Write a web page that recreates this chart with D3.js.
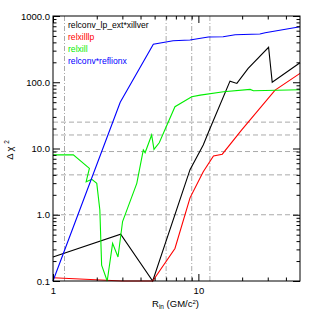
<!DOCTYPE html>
<meta charset="utf-8">
<style>
body{margin:0;background:#fff;}
text{font-family:"Liberation Sans",Arial,sans-serif;}
.axis path{stroke:#000;}
.axis line{stroke:#000;}
.grid{stroke:#aaa;stroke-width:1;fill:none;}
</style>
<body>
<script src="https://d3js.org/d3.v7.min.js"></script>
<script>

// relconv_lp_ext*xillver
var blackX=[1,2.92,4.85,8.76,10.8,11.9,16.5,18.4,22,30.4,32.2,50];
var blackY=[0.23,0.51,0.1,4.8,11.3,19,104,96,162,337,100,197];
// relxilllp
var redX=[1,3,4.85,6.9,8.76,10.8,12.7,14.6,19.8,33.7,50];
var redY=[0.112,0.1,0.1,0.31,1.8,4.47,7.7,8.2,19,76,136];
// relxill
var greenX=[1,1.38,1.78,1.69,1.85,2.0,2.1,2.16,2.36,2.57,2.8,3.01,3.15,3.77,4.18,4.3,4.77,4.95,5.38,6.9,9.0,10.3,14.9,22.7,23.9,50];
var greenY=[8,8,5,3.15,3.43,2.98,1.18,0.174,0.1,0.37,0.23,0.79,1.03,2.98,9.5,8.65,16,9.7,12.2,42.8,60.5,64,72,78,74.5,77];
// relconv*reflionx
var blueX=[1,2.9,4.9,6.7,8.75,11.7,14.8,17.9,26.5,28.8,50];
var blueY=[0.1,50,375,424,434,482,487,522,535,560,690];

var series=[
  {name:"relconv_lp_ext*xillver",color:"#000000",x:blackX,y:blackY},
  {name:"relxilllp",color:"#ff0000",x:redX,y:redY},
  {name:"relxill",color:"#00ee00",x:greenX,y:greenY},
  {name:"relconv*reflionx",color:"#0000ff",x:blueX,y:blueY}
];

var hLevels=[1,4,9,16,25];
var vLevels=[1.2,6,9,12];
var yMajor=[0.1,1,10,100,1000];
var xMajor=[1,10];

var W=315,H=315;
var L=53,R=300,T=16,B=281;

var svg=d3.select("body").append("svg").attr("width",W).attr("height",H);
var x=d3.scaleLog().domain([1,50]).range([L,R]);
var y=d3.scaleLog().domain([0.1,1000]).range([B,T]);

// minor tick positions
var yMinor=[];
[0.1,1,10,100].forEach(function(d){for(var k=2;k<10;k++)yMinor.push(d*k);});
var xMinor=[2,3,4,5,6,7,8,9,20,30,40];

// grid lines
svg.selectAll(".hgrid").data(hLevels).enter().append("line")
  .attr("class","grid").attr("x1",L).attr("x2",R)
  .attr("y1",d=>y(d)).attr("y2",d=>y(d))
  .attr("stroke-dasharray","5,3");
svg.selectAll(".vgrid").data(vLevels).enter().append("line")
  .attr("class","grid").attr("y1",T).attr("y2",B)
  .attr("x1",d=>x(d)).attr("x2",d=>x(d))
  .attr("stroke-dasharray","5,2,1,2");

// lines
var line=d3.line().x(d=>x(d[0])).y(d=>y(d[1]));
series.forEach(function(s){
  var pts=s.x.map((v,i)=>[v,s.y[i]]);
  svg.append("path").datum(pts).attr("d",line)
    .attr("fill","none").attr("stroke",s.color).attr("stroke-width",1.1);
});

// axes
function addAxis(gen,tr,vals,size,fmt){
  var g=svg.append("g").attr("class","axis").attr("transform",tr)
    .call(gen.tickValues(vals).tickSize(size).tickFormat(fmt||""));
  g.select(".domain").remove();
  return g;
}
var fmtY=d=>d3.format(".1f")(d);
var gx=addAxis(d3.axisBottom(x),"translate(0,"+B+")",xMajor,-7,d3.format("d"));
gx.selectAll("text").attr("y",6).style("font-size","9.5px");
addAxis(d3.axisBottom(x),"translate(0,"+B+")",xMinor,-3.5);
addAxis(d3.axisTop(x),"translate(0,"+T+")",xMajor,-7);
addAxis(d3.axisTop(x),"translate(0,"+T+")",xMinor,-3.5);
var gy=addAxis(d3.axisLeft(y),"translate("+L+",0)",yMajor,-7,fmtY);
gy.selectAll("text").attr("x",-3).style("font-size","9.5px");
addAxis(d3.axisLeft(y),"translate("+L+",0)",yMinor,-3.5);
addAxis(d3.axisRight(y),"translate("+R+",0)",yMajor,-7);
addAxis(d3.axisRight(y),"translate("+R+",0)",yMinor,-3.5);

svg.append("rect").attr("x",L).attr("y",T).attr("width",R-L).attr("height",B-T)
  .attr("fill","none").attr("stroke","#000").attr("stroke-width",1);

// legend
svg.selectAll(".leg").data(series).enter().append("text")
  .attr("x",68).attr("y",(d,i)=>28+i*12)
  .attr("fill",d=>d.color).style("font-size","8.6px").text(d=>d.name);

// axis titles
var xt=svg.append("text").attr("x",152).attr("y",307).style("font-size","9.5px");
xt.append("tspan").text("R");
xt.append("tspan").attr("dy",2).style("font-size","6.5px").text("in");
xt.append("tspan").attr("dy",-2).text(" (GM/c");
xt.append("tspan").attr("dy",-3.5).style("font-size","6px").text("2");
xt.append("tspan").attr("dy",3.5).text(")");

var yt=svg.append("text").attr("transform","translate(13,150) rotate(-90)")
  .attr("text-anchor","middle").style("font-size","9.5px");
yt.append("tspan").text("\u0394 \u03c7 ");
yt.append("tspan").attr("dy",-4).style("font-size","6.5px").text("2");

</script>
</body>
